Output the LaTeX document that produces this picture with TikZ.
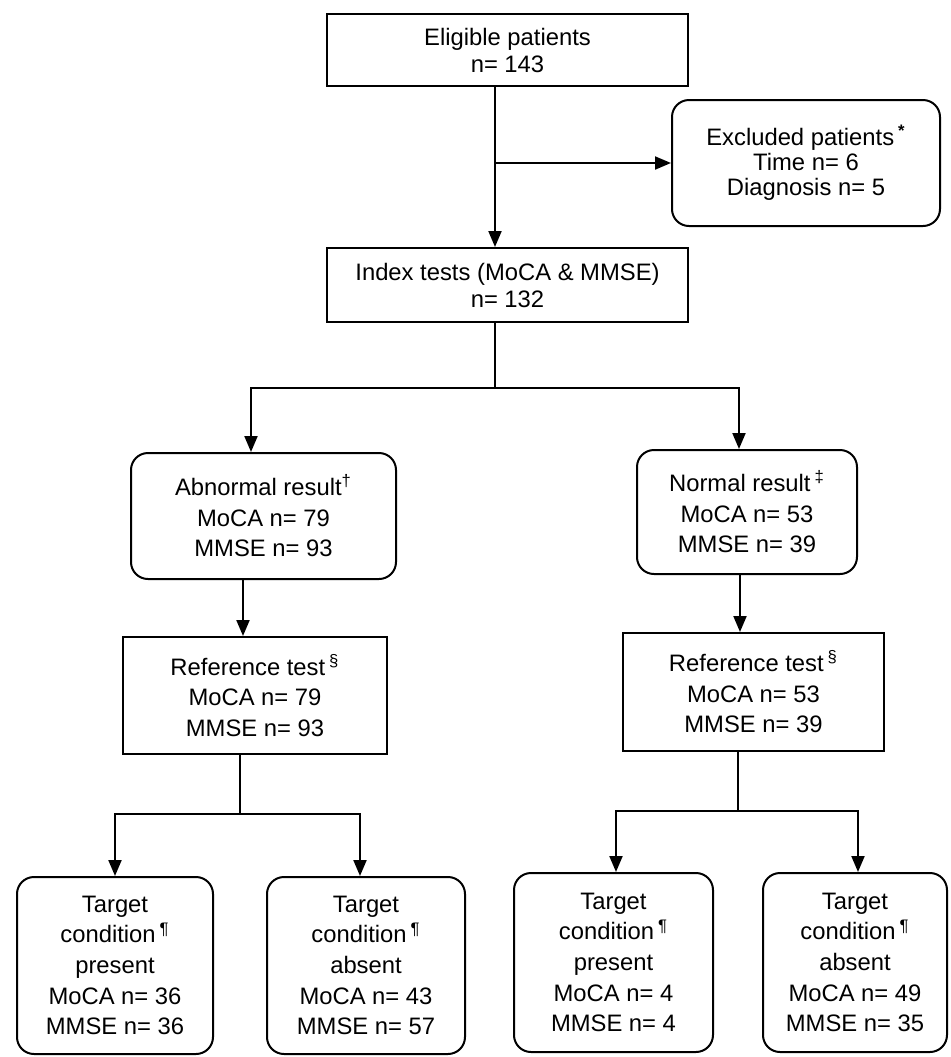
\documentclass[tikz,border=0pt]{standalone}
\usepackage{fontspec}
\setmainfont{Liberation Sans}
\usetikzlibrary{arrows.meta}
\begin{document}
\begin{tikzpicture}[x=0.5pt,y=-0.5pt,
  box/.style={draw, line width=1pt, inner sep=0pt, align=center, font=\fontsize{11.9}{15.3}\selectfont},
  rbox/.style={box, rounded corners=8.5pt},
  arr/.style={line width=1pt, -{Triangle[width=6.5pt,length=8pt]}},
  ln/.style={line width=1pt}]
\useasboundingbox (0,0) rectangle (950,1057);
% boxes
\node[box, minimum width=180.5pt, minimum height=36pt, font=\fontsize{11.9}{13.5}\selectfont] (elig) at (507.5,50) {Eligible patients\\n= 143};
\node[rbox, minimum width=134pt, minimum height=63pt, font=\fontsize{11.9}{12.5}\selectfont] (excl) at (806,163) {Excluded patients\,\textsuperscript{\textbf{*}}\\Time n= 6\\Diagnosis n= 5};
\node[box, minimum width=180.5pt, minimum height=37pt, font=\fontsize{11.9}{13.5}\selectfont] (index) at (507.5,285) {Index tests (MoCA \& MMSE)\\n= 132};
\node[rbox, minimum width=132.5pt, minimum height=63pt] (abn) at (263.5,516) {Abnormal result\textsuperscript{†}\\MoCA n= 79\\MMSE n= 93};
\node[rbox, minimum width=110pt, minimum height=62pt] (norm) at (747,512) {Normal result\,\textsuperscript{‡}\\MoCA n= 53\\MMSE n= 39};
\node[box, minimum width=132pt, minimum height=58.5pt] (refL) at (255,695.5) {Reference test\,\textsuperscript{§}\\MoCA n= 79\\MMSE n= 93};
\node[box, minimum width=130.5pt, minimum height=59pt] (refR) at (753.5,692) {Reference test\,\textsuperscript{§}\\MoCA n= 53\\MMSE n= 39};
\node[rbox, minimum width=98pt, minimum height=88.5pt] (t1) at (115,965.5) {Target\\condition\,\textsuperscript{¶}\\present\\MoCA n= 36\\MMSE n= 36};
\node[rbox, minimum width=99pt, minimum height=88.5pt] (t2) at (366,965.5) {Target\\condition\,\textsuperscript{¶}\\absent\\MoCA n= 43\\MMSE n= 57};
\node[rbox, minimum width=99.5pt, minimum height=89.5pt] (t3) at (613.5,962.5) {Target\\condition\,\textsuperscript{¶}\\present\\MoCA n= 4\\MMSE n= 4};
\node[rbox, minimum width=92pt, minimum height=89.5pt] (t4) at (855,962.5) {Target\\condition\,\textsuperscript{¶}\\absent\\MoCA n= 49\\MMSE n= 35};
% junction coordinates
\coordinate (c1) at (495,163);
\coordinate (c2) at (495,388);
\coordinate (c3) at (251,388);
\coordinate (c4) at (739,388);
\coordinate (c5) at (243,600);
\coordinate (c6) at (240,814);
\coordinate (c7) at (115,814);
\coordinate (c8) at (360,814);
\coordinate (c9) at (740,600);
\coordinate (c10) at (738,811);
\coordinate (c11) at (616,811);
\coordinate (c12) at (858,811);
% connectors
\draw[arr] (elig.south -| c1) -- (index.north -| c1);
\draw[arr] (c1) -- (excl.west);
\draw[ln] (index.south -| c2) -- (c2);
\draw[arr] (c2) -| (abn.north -| c3);
\draw[arr] (c2) -| (norm.north -| c4);
\draw[arr] (abn.south -| c5) -- (refL.north -| c5);
\draw[arr] (norm.south -| c9) -- (refR.north -| c9);
\draw[ln] (refL.south -| c6) -- (c6);
\draw[arr] (c6) -| (t1.north -| c7);
\draw[arr] (c6) -| (t2.north -| c8);
\draw[ln] (refR.south -| c10) -- (c10);
\draw[arr] (c10) -| (t3.north -| c11);
\draw[arr] (c10) -| (t4.north -| c12);
\end{tikzpicture}
\end{document}
